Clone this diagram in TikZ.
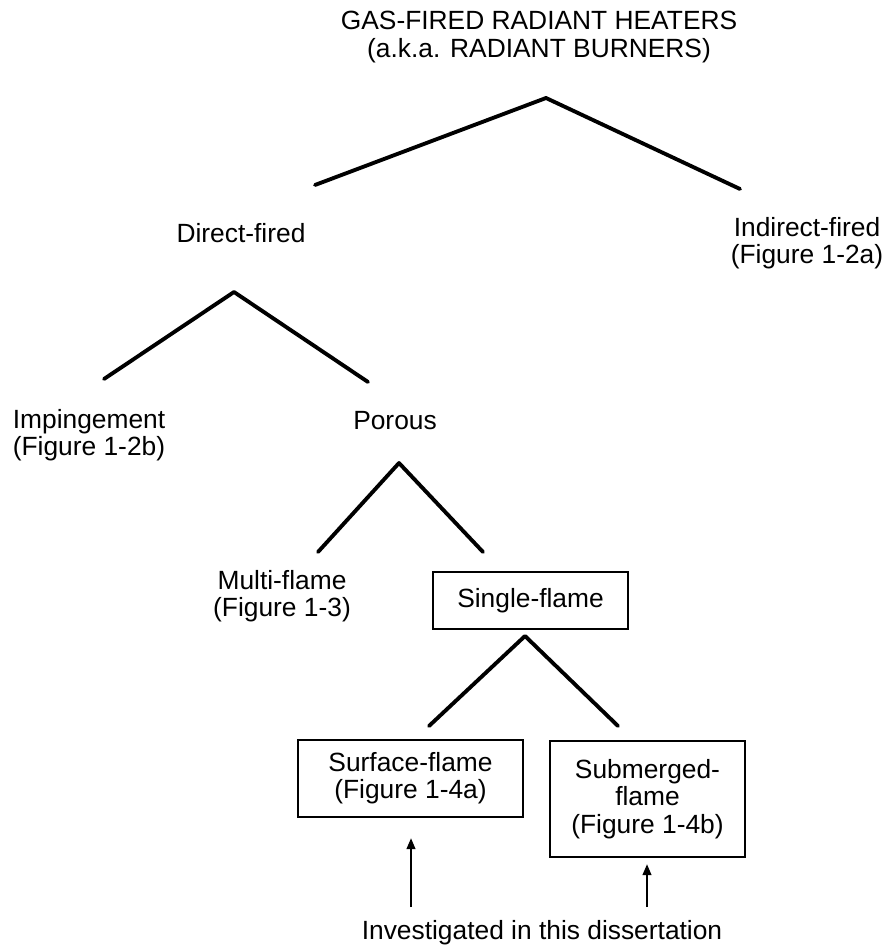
\documentclass[tikz,border=0pt]{standalone}
\usepackage{fontspec}
\setmainfont{Liberation Sans}
\usepackage{tikz}
\usetikzlibrary{arrows.meta}
\tikzset{
	lbl/.style={font=\fontsize{15}{15.5}\selectfont, align=center, inner sep=0pt}
}
\tikzset{
	boxed/.style={lbl, draw, line width=1.2pt},
	branch/.style={line width=2.2pt, line cap=round, line join=round},
	pointer/.style={line width=1.3pt, -{Triangle[length=0.22cm, width=0.17cm]}}
}

\begin{document}
\begin{tikzpicture}[x=0.02cm, y=-0.02cm]
  \useasboundingbox (0,0) rectangle (889,952);
  % labels
  \node[lbl] (heat) at (539,37) {GAS-FIRED RADIANT HEATERS\\(a.k.a. RADIANT BURNERS)};
  \node[lbl] (dir) at (241,233) {Direct-fired};
  \node[lbl] (ind) at (807,243) {Indirect-fired\\(Figure 1-2a)};
  \node[lbl, align=left] (imp) at (89,435) {Impingement\\(Figure 1-2b)};
  \node[lbl] (por) at (395,421) {Porous};
  \node[lbl] (multi) at (282,596) {Multi-flame\\(Figure 1-3)};
  \node[boxed, minimum width=3.9cm, minimum height=1.14cm] (single) at (530.5,600.5) {Single-flame};
  \node[boxed, minimum width=4.5cm, minimum height=1.54cm] (surf) at (410.5,778.5) {Surface-flame\\(Figure 1-4a)};
  \node[boxed, minimum width=3.9cm, minimum height=2.32cm] (sub) at (647.5,799) {Submerged-\\flame\\(Figure 1-4b)};
  \node[lbl] (inv) at (542,933) {Investigated in this dissertation};
  % tree branches
  \coordinate (p0) at (546,98);  \coordinate (l0) at (315,185); \coordinate (r0) at (740,189);
  \coordinate (p1) at (234,292); \coordinate (l1) at (104,379); \coordinate (r1) at (368,382);
  \coordinate (p2) at (399,463); \coordinate (l2) at (318,552); \coordinate (r2) at (483,552);
  \coordinate (p3) at (525,636); \coordinate (l3) at (429,726); \coordinate (r3) at (618,726);
  \draw[branch] (l0) -- (p0) -- (r0);
  \draw[branch] (l1) -- (p1) -- (r1);
  \draw[branch] (l2) -- (p2) -- (r2);
  \draw[branch] (l3) -- (p3) -- (r3);
  % pointers
  \coordinate (t1) at (411,907);
  \coordinate (t2) at (647,907);
  \draw[pointer, shorten >=0.4cm] (t1) -- (t1 |- surf.south);
  \draw[pointer, shorten >=0.12cm] (t2) -- (t2 |- sub.south);
\end{tikzpicture}
\end{document}
